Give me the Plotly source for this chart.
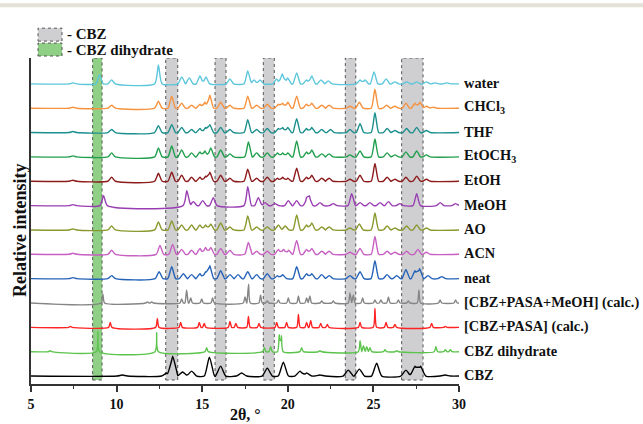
import plotly.graph_objects as go

# ---------------- data (peak position 2θ, relative intensity) ----------------
labels = ["water", "CHCl<sub>3</sub>", "THF", "EtOCH<sub>3</sub>", "EtOH", "MeOH", "AO", "ACN",
          "neat", "[CBZ+PASA+MeOH] (calc.)", "[CBZ+PASA] (calc.)", "CBZ dihydrate", "CBZ"]

peaks_water = [(7.45, 1), (9.0, 9), (9.71, 4), (12.44, 19), (13.8, 7), (14.25, 6), (14.87, 8), (15.22, 7),
               (16.62, 5), (17.66, 13), (18.03, 4), (18.38, 4), (19.35, 5), (19.68, 10), (19.99, 6),
               (20.52, 11), (21.1, 4), (21.4, 8), (21.94, 4), (22.37, 3), (24.22, 4), (24.51, 4),
               (25.04, 12), (25.74, 5), (26.26, 2), (26.94, 2), (27.53, 2), (28.1, 2), (28.6, 1), (29.3, 1)]
peaks_chcl3 = [(7.45, 1), (9.71, 3), (12.44, 7), (13.22, 12), (13.8, 5), (14.38, 3), (14.87, 4), (15.16, 6),
               (15.45, 13), (16.08, 6), (16.62, 3), (17.66, 12), (18.18, 3), (18.8, 4), (19.45, 4), (19.7, 5),
               (20.0, 6), (20.52, 12), (21.1, 4), (21.4, 5), (21.98, 3), (22.42, 3), (23.63, 2), (24.18, 6),
               (25.09, 19), (25.77, 3), (26.26, 2), (26.9, 5), (27.43, 5), (27.72, 6), (28.1, 2), (28.5, 1)]
peaks_thf = [(7.45, 1), (9.71, 3), (12.44, 7), (13.22, 8), (13.8, 5), (14.38, 3), (14.87, 4), (15.2, 5),
             (15.45, 8), (16.08, 5), (16.62, 3), (17.66, 13), (18.18, 3), (18.8, 4), (19.45, 4), (19.7, 5),
             (20.0, 5), (20.52, 14), (21.1, 4), (21.4, 5), (21.98, 3), (22.5, 3), (23.63, 3), (24.22, 9),
             (25.09, 20), (25.8, 4), (26.26, 2), (26.94, 4), (27.53, 5), (28.1, 2)]
peaks_etoch3 = [(7.45, 1), (9.71, 4), (12.44, 9), (13.22, 11), (13.8, 7), (14.38, 4), (14.87, 5), (15.16, 6),
                (15.5, 9), (16.08, 7), (16.62, 3), (17.7, 15), (18.18, 4), (18.8, 4), (19.4, 4), (19.7, 4),
                (20.0, 4), (20.52, 16), (21.1, 5), (21.4, 7), (21.98, 3), (22.42, 3), (23.63, 2), (24.22, 6),
                (25.09, 18), (25.8, 4), (26.26, 2), (26.9, 5), (27.53, 6), (28.1, 2)]
peaks_etoh = [(7.45, 1), (9.71, 4), (12.44, 8), (13.22, 9), (13.8, 6), (14.38, 4), (14.87, 4), (15.2, 5),
              (15.45, 9), (16.08, 6), (16.62, 3), (17.66, 12), (18.18, 3), (18.8, 4), (19.4, 3), (19.7, 4),
              (20.0, 3), (20.52, 13), (21.1, 4), (21.4, 6), (21.98, 3), (22.42, 3), (23.63, 2), (24.22, 6),
              (25.09, 18), (25.8, 4), (26.26, 2), (26.9, 4), (27.53, 5), (28.1, 2)]
peaks_meoh = [(7.45, 1), (9.24, 10), (14.1, 15), (14.48, 4), (15.03, 5), (15.65, 8), (17.66, 19), (18.28, 8),
              (18.67, 3), (19.25, 2), (20.03, 5), (20.52, 5), (21.1, 6), (21.26, 8), (21.88, 3), (22.66, 2),
              (23.73, 12), (24.22, 3), (24.8, 3), (25.39, 3), (25.88, 4), (26.55, 2), (27.53, 12), (28.9, 3),
              (29.8, 2)]
peaks_ao = [(7.45, 1), (9.71, 4), (12.44, 8), (13.22, 9), (13.8, 5), (14.38, 5), (14.87, 5), (15.2, 5),
            (15.5, 6), (16.08, 7), (16.62, 3), (17.66, 14), (18.18, 3), (18.8, 3), (19.45, 5), (19.85, 4),
            (20.52, 15), (21.1, 5), (21.4, 7), (21.98, 3), (22.42, 3), (23.63, 2), (24.18, 6), (25.09, 17),
            (25.8, 4), (26.26, 2), (26.94, 4), (27.53, 5), (28.1, 2)]
peaks_acn = [(7.45, 1), (9.71, 4), (12.53, 9), (13.27, 10), (13.8, 5), (14.38, 4), (14.87, 6), (15.2, 7),
             (15.5, 7), (16.08, 6), (16.62, 4), (17.7, 12), (18.18, 3), (18.8, 3), (19.45, 5), (19.75, 5),
             (20.05, 4), (20.52, 14), (21.1, 5), (21.4, 6), (21.98, 3), (22.42, 3), (23.63, 2), (24.22, 6),
             (25.09, 18), (25.8, 3), (26.26, 2), (26.94, 3), (27.6, 5), (28.1, 2)]
peaks_neat = [(7.45, 1), (9.71, 3), (12.48, 7), (13.22, 12), (13.9, 5), (14.38, 4), (14.87, 5), (15.2, 7),
              (15.45, 13), (16.08, 8), (16.62, 4), (17.1, 4), (17.66, 7), (18.18, 4), (18.8, 5), (19.4, 3),
              (19.7, 4), (20.52, 12), (21.1, 5), (21.4, 5), (21.98, 4), (22.42, 3), (23.63, 3), (24.22, 7),
              (25.09, 18), (25.8, 4), (26.36, 3), (26.9, 9), (27.43, 8), (27.7, 10), (28.2, 3), (29.0, 2)]
peaks_cocrystal_meoh = [(9.2, 9), (11.8, 1), (12.05, 1), (13.8, 4), (14.09, 13), (14.33, 5), (14.97, 4),
                        (15.61, 5), (17.5, 6), (17.71, 19), (18.41, 8), (18.8, 2), (19.45, 3), (20.03, 5),
                        (20.62, 7), (21.1, 5), (21.29, 7), (21.98, 2), (22.66, 2), (23.63, 10), (23.83, 8),
                        (24.37, 5), (25.09, 3), (25.44, 3), (25.88, 6), (26.46, 3), (27.04, 2), (27.66, 13),
                        (28.9, 3), (29.8, 3)]
peaks_cocrystal = [(7.3, 1), (9.63, 5), (12.38, 9), (13.74, 5), (14.83, 5), (15.12, 4), (16.62, 6), (16.97, 4),
                   (17.7, 11), (18.32, 4), (19.35, 5), (19.93, 5), (20.62, 13), (21.1, 5), (21.34, 7),
                   (21.92, 4), (22.31, 3), (24.22, 5), (25.09, 19), (25.74, 5), (26.26, 3), (28.4, 4), (29.2, 1)]
peaks_dihydrate = [(6.11, 1), (8.91, 20), (12.34, 19), (15.26, 4), (18.63, 4), (19.0, 5), (19.5, 17),
                   (19.63, 16), (20.81, 4), (21.88, 1), (24.22, 11), (24.42, 6), (24.61, 5), (24.8, 4),
                   (25.68, 2), (26.36, 1), (28.65, 5), (29.2, 2), (29.5, 2)]
peaks_cbz = [(10.33, 1), (12.93, 3), (13.28, 20), (13.86, 4), (14.38, 5), (15.42, 19), (16.08, 10), (17.3, 3),
             (18.8, 8), (19.74, 14), (20.71, 5), (21.1, 3), (21.88, 1), (23.53, 6), (24.18, 7), (25.19, 13),
             (26.9, 6), (27.43, 10), (27.76, 10), (29.2, 1)]

all_peaks = [peaks_water, peaks_chcl3, peaks_thf, peaks_etoch3, peaks_etoh, peaks_meoh, peaks_ao, peaks_acn,
             peaks_neat, peaks_cocrystal_meoh, peaks_cocrystal, peaks_dihydrate, peaks_cbz]

# highlighted regions (2θ ranges)
cbz_regions = [(12.87, 13.57), (15.75, 16.39), (18.57, 19.21), (23.36, 23.97), (26.65, 27.9)]
dihydrate_region = (8.6, 9.15)

x_ticks = [5, 10, 15, 20, 25, 30]

# ---------------- styles ----------------
colors = ["#5cc6dc", "#f7923f", "#1b8f8d", "#1f9e4b", "#8c1c1c", "#9a3db3", "#8a982e", "#c75fc3",
          "#2462b8", "#858585", "#ff2424", "#5cc44c", "#000000"]
halfwidths = [0.22, 0.22, 0.22, 0.22, 0.22, 0.22, 0.22, 0.22, 0.23, 0.1, 0.1, 0.1, 0.3]
step = 24.5
n = len(labels)
FONT = "Liberation Serif"


def profile(peaks, hw):
    xs = {5.0, 30.0}
    for p, h in peaks:
        xs.update([p - hw, p, p + hw])
    xs = sorted(x for x in xs if 5.0 <= x <= 30.0)
    ys = [sum(max(0.0, h * (1 - abs(x - p) / hw)) for p, h in peaks) for x in xs]
    return xs, ys


fig = go.Figure()
annotations = []
for i, (lab, pk, col, hw) in enumerate(zip(labels, all_peaks, colors, halfwidths)):
    off = (n - 1 - i) * step
    xs, ys = profile(pk, hw)
    fig.add_trace(go.Scatter(x=xs, y=[y + off for y in ys], mode="lines",
                             line=dict(color=col, width=1.4, shape="spline", smoothing=0.6),
                             showlegend=False, hoverinfo="skip"))
    annotations.append(dict(x=30, y=off + 1, xref="x", yref="y", text=lab, showarrow=False,
                            xanchor="left", yanchor="middle", xshift=3,
                            font=dict(family=FONT, size=14.4, color="#111111", weight="bold")))

shapes = []
for a, b in cbz_regions:
    shapes.append(dict(type="rect", xref="x", yref="y", x0=a, x1=b, y0=-4, y1=320, layer="below",
                       fillcolor="#cfcfd2", line=dict(color="#555555", width=1, dash="dot")))
shapes.append(dict(type="rect", xref="x", yref="y", x0=dihydrate_region[0], x1=dihydrate_region[1],
                   y0=-4, y1=320, layer="below",
                   fillcolor="#8fcf86", line=dict(color="#555555", width=1, dash="dot")))

W, H = 643, 424
ml, mr, mt, mb = 31, 184, 58, 38
def lx(x): return (x - ml) / (W - ml - mr)
def ly(y): return (H - mb - y) / (H - mt - mb)

shapes.append(dict(type="rect", xref="paper", yref="paper", x0=lx(38), x1=lx(62), y0=ly(41), y1=ly(28),
                   fillcolor="#cfcfd2", line=dict(color="#555555", width=1, dash="dot")))
shapes.append(dict(type="rect", xref="paper", yref="paper", x0=lx(38), x1=lx(62), y0=ly(56), y1=ly(43),
                   fillcolor="#8fcf86", line=dict(color="#555555", width=1, dash="dot")))
annotations.append(dict(x=lx(65), y=ly(34), xref="paper", yref="paper", text="- CBZ", showarrow=False,
                        xanchor="left", yanchor="middle",
                        font=dict(family=FONT, size=15, color="#111111", weight="bold")))
annotations.append(dict(x=lx(65), y=ly(49.5), xref="paper", yref="paper", text="- CBZ dihydrate",
                        showarrow=False, xanchor="left", yanchor="middle",
                        font=dict(family=FONT, size=15, color="#111111", weight="bold")))
# top page strip
shapes.append(dict(type="rect", xref="paper", yref="paper", x0=lx(0), x1=lx(W), y0=ly(7), y1=ly(3),
                   fillcolor="#e4e1d8", line=dict(width=0)))
# y title
annotations.append(dict(x=lx(20), y=ly(232), xref="paper", yref="paper", text="Relative intensity",
                        showarrow=False, textangle=-90, xanchor="center", yanchor="middle",
                        font=dict(family=FONT, size=18, color="#111111", weight="bold")))
# x title
annotations.append(dict(x=lx(245), y=ly(417), xref="paper", yref="paper", text="2θ, °",
                        showarrow=False, xanchor="center", yanchor="middle",
                        font=dict(family=FONT, size=16, color="#111111", weight="bold")))

fig.update_layout(
    width=W, height=H, margin=dict(l=ml, r=mr, t=mt, b=mb),
    paper_bgcolor="white", plot_bgcolor="white",
    shapes=shapes, annotations=annotations,
    xaxis=dict(range=[5, 30], tickvals=x_ticks, ticks="outside", ticklen=6, tickwidth=1.5,
               tickcolor="#333333", showline=True, linecolor="#333333", linewidth=2, showgrid=False,
               zeroline=False, tickfont=dict(family=FONT, size=14, color="#111111", weight="bold"),
               minor=dict(dtick=2.5, ticks="outside", ticklen=3, tickcolor="#333333", tickwidth=1)),
    yaxis=dict(range=[-8, 320], showticklabels=False, ticks="", showline=True, linecolor="#333333",
               linewidth=2, showgrid=False, zeroline=False),
)

fig.write_html("out.html")
